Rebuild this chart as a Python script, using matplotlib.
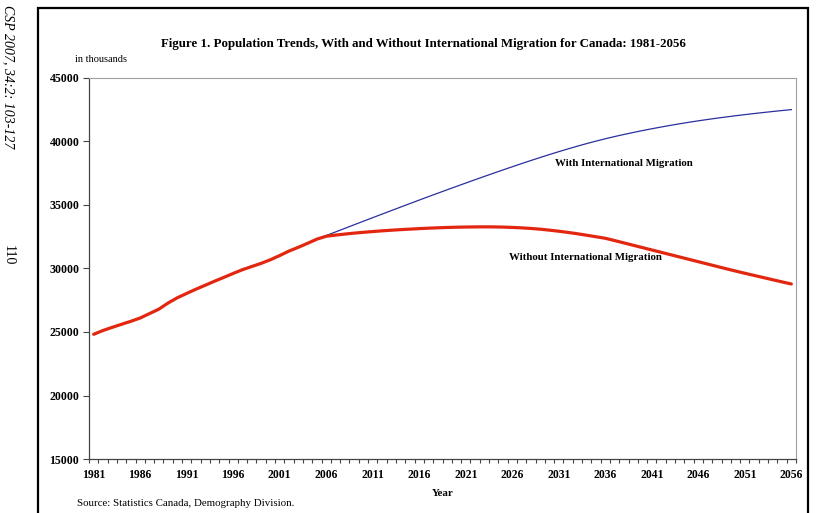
import matplotlib
matplotlib.use("Agg")
import matplotlib.pyplot as plt
from matplotlib.patches import Rectangle
from matplotlib.ticker import MultipleLocator, FixedLocator

# population in thousands
hist_years = list(range(1981, 2006))
hist_pop = [24820, 25117, 25367, 25608, 25843, 26101, 26449, 26795, 27282, 27698,
            28037, 28371, 28684, 29000, 29302, 29611, 29907, 30157, 30404, 30689,
            31021, 31373, 31669, 31985, 32312]

proj_years = list(range(2006, 2057))
with_migration = [32595, 32878, 33160, 33442, 33723, 34003, 34282, 34560, 34837, 35113,
                  35388, 35660, 35930, 36198, 36464, 36728, 36990, 37250, 37507, 37761,
                  38012, 38259, 38502, 38740, 38973, 39200, 39420, 39632, 39836, 40030,
                  40214, 40388, 40553, 40710, 40860, 41003, 41140, 41271, 41396, 41515,
                  41628, 41735, 41837, 41934, 42027, 42116, 42201, 42283, 42362, 42438,
                  42512]
without_migration = [32540, 32630, 32710, 32785, 32850, 32910, 32965, 33015, 33060, 33100,
                     33140, 33175, 33205, 33230, 33250, 33265, 33275, 33280, 33275, 33260,
                     33235, 33200, 33155, 33095, 33020, 32935, 32840, 32735, 32620, 32500,
                     32380, 32200, 32015, 31830, 31645, 31460, 31275, 31090, 30905, 30720,
                     30535, 30350, 30165, 29980, 29800, 29625, 29455, 29285, 29115, 28945,
                     28780]

label_years = list(range(1981, 2057, 5))

plt.rcParams['font.family'] = ['Liberation Serif', 'DejaVu Serif']

fig = plt.figure(figsize=(8.37, 5.13), dpi=100)
W, H = 837, 513

# outer frame of the printed figure
fig.add_artist(Rectangle((38 / W, -0.05), (808 - 38) / W, 1.05 - 8 / H,
                         transform=fig.transFigure, fill=False, lw=1.6,
                         edgecolor='black', clip_on=False))

ax = fig.add_axes([89 / W, 1 - 459 / H, (796 - 89) / W, (459 - 78) / H])

years_all = hist_years + proj_years
ax.plot(years_all, hist_pop + with_migration, color='#2b2f9e', lw=0.9)
ax.plot(years_all, hist_pop + without_migration, color='#e3260f', lw=2.3,
        solid_capstyle='round')

ax.set_xlim(1980.5, 2056.5)
ax.set_ylim(15000, 45000)

ax.yaxis.set_major_locator(MultipleLocator(5000))
ax.tick_params(axis='y', direction='out', length=4, width=0.8, color='#444444',
               labelsize=8.6, pad=3)
for t in ax.get_yticklabels():
    t.set_fontweight('bold')

ax.xaxis.set_major_locator(FixedLocator(label_years))
ax.xaxis.set_minor_locator(FixedLocator([y + 0.5 for y in range(1980, 2057)]))
ax.set_xticklabels([str(y) for y in label_years], fontweight='bold', fontsize=8.4)
ax.tick_params(axis='x', which='major', length=0, pad=7)
ax.tick_params(axis='x', which='minor', direction='out', length=3, width=0.8,
               color='#444444')

for side in ['top', 'right']:
    ax.spines[side].set_color('#a0a0a0')
    ax.spines[side].set_linewidth(0.8)
for side in ['left', 'bottom']:
    ax.spines[side].set_color('#444444')
    ax.spines[side].set_linewidth(0.9)

ax.text(2038.0, 38230, 'With International Migration', fontsize=7.8,
        fontweight='bold', ha='center', va='center')
ax.text(2033.9, 30830, 'Without International Migration', fontsize=7.8,
        fontweight='bold', ha='center', va='center')

fig.text(423 / W, 1 - 44 / H,
         'Figure 1. Population Trends, With and Without International Migration for Canada: 1981-2056',
         ha='center', va='center', fontsize=9.3, fontweight='bold')
fig.text(75 / W, 1 - 60 / H, 'in thousands', ha='left', va='center', fontsize=7.5)
fig.text(443 / W, 1 - 493 / H, 'Year', ha='center', va='center', fontsize=7.8,
         fontweight='bold')
fig.text(77 / W, 1 - 504 / H, 'Source: Statistics Canada, Demography Division.',
         ha='left', va='center', fontsize=7.8)

fig.text(8 / W, 1 - 5 / H, 'CSP 2007, 34:2: 103-127', rotation=-90, ha='center',
         va='top', fontsize=10, fontstyle='italic')
fig.text(8 / W, 1 - 255 / H, '110', rotation=-90, ha='center', va='center',
         fontsize=10)

fig.savefig('out.png', dpi=100)
